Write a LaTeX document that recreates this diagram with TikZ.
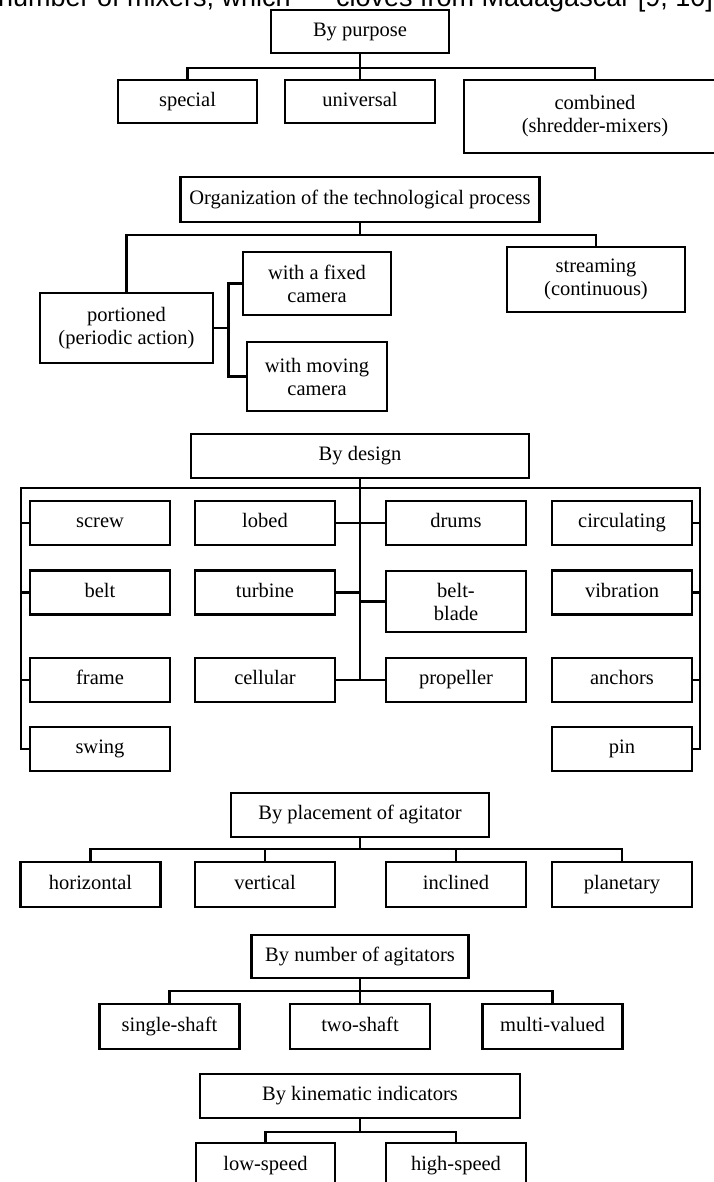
\documentclass[tikz,border=0pt]{standalone}
\usepackage{fontspec}
\setmainfont{Liberation Serif}
\newfontfamily\pagefont{Liberation Sans}

\begin{document}
\begin{tikzpicture}[
                line join=miter,
                box/.style={draw=black, line width=2.6pt, align=center, inner sep=0pt, font=\fontsize{20.5pt}{23pt}\selectfont},
                link/.style={draw=black, line width=2.6pt},
                pagetext/.style={inner sep=0pt, font=\pagefont\fontsize{27pt}{30pt}\selectfont}
                ]
                \useasboundingbox (0pt,0pt) rectangle (713pt,-1182pt);

                %% Cut line of the page text
                \node[pagetext, anchor=base east] (textleft) at (291pt,-7pt) {number of mixers, which};
                \node[pagetext, anchor=base west] (textright) at (336pt,-7pt) {cloves from Madagascar [9, 10]};

                %% By purpose
                \node[box, minimum width=178pt, minimum height=43pt] (purpose) at (360pt,-31.5pt) {By purpose\strut};
                \node[box, minimum width=139pt, minimum height=43pt] (special) at (187.5pt,-101.5pt) {special\strut};
                \node[box, minimum width=150pt, minimum height=43pt] (universal) at (360pt,-101.5pt) {universal\strut};
                \node[box, minimum width=262pt, minimum height=73pt] (combined) at (595pt,-116.5pt) {combined\\(shredder-mixers)};
                \coordinate (b1) at (360pt,-68pt);
                \draw[link] (purpose.south) -- (universal.north);
                \draw[link] (special.north) |- (b1) -| (combined.north);

                %% Organization of the technological process
                \node[box, minimum width=359pt, minimum height=45pt] (process) at (360pt,-199.5pt) {Organization of the technological process\strut};
                \node[box, minimum width=173pt, minimum height=70pt] (portioned) at (126.5pt,-328pt) {portioned\\(periodic action)};
                \node[box, minimum width=178pt, minimum height=65pt] (streaming) at (596pt,-279.5pt) {streaming\\(continuous)};
                \node[box, minimum width=148pt, minimum height=63pt] (fixedcam) at (317pt,-283.5pt) {with a fixed\\camera};
                \node[box, minimum width=140pt, minimum height=69pt] (movingcam) at (317pt,-376.5pt) {with moving\\camera};
                \coordinate (b2) at (360pt,-235pt);
                \coordinate (b2s) at ([xshift=14pt]portioned.east);
                \draw[link] (process.south) -- (b2);
                \draw[link] (portioned.north) |- (b2) -| (streaming.north);
                \draw[link] (portioned.east) -- (b2s);
                \draw[link] (fixedcam.west) -| (b2s) |- (movingcam.west);

                %% By design
                \node[box, minimum width=338pt, minimum height=44pt] (design) at (360pt,-456pt) {By design\strut};
                \foreach \name/\txt/\x/\y in {screw/screw/100pt/-523pt, belt/belt/100pt/-592.5pt, frame/frame/100pt/-680pt, swing/swing/100pt/-749pt,
                                              lobed/lobed/265pt/-523pt, turbine/turbine/265pt/-592.5pt, cellular/cellular/265pt/-680pt,
                                              drums/drums/456pt/-523pt, propeller/propeller/456pt/-680pt,
                                              circulating/circulating/622pt/-523pt, vibration/vibration/622pt/-592.5pt, anchors/anchors/622pt/-680pt, pin/pin/622pt/-749pt} {
                    \node[box, minimum width=140pt, minimum height=44pt] (\name) at (\x,\y) {\txt\strut};
                }
                \node[box, minimum width=140pt, minimum height=61pt] (beltblade) at (456pt,-601.5pt) {belt-\\blade};
                \coordinate (dl) at (21pt,-488pt);
                \coordinate (dr) at (700pt,-488pt);
                \draw[link] (swing.west) -| (dl) -- (dr) |- (pin.east);
                \draw[link] (design.south) -- (design.south |- cellular.east);
                \foreach \n in {screw, belt, frame} {
                    \draw[link] (\n.west) -- (\n.west -| dl);
                }
                \foreach \n in {circulating, vibration, anchors} {
                    \draw[link] (\n.east) -- (\n.east -| dr);
                }
                \foreach \n in {lobed, turbine, cellular} {
                    \draw[link] (\n.east) -- (\n.east -| design.south);
                }
                \foreach \n in {drums, beltblade, propeller} {
                    \draw[link] (\n.west) -- (\n.west -| design.south);
                }

                %% By placement of agitator
                \node[box, minimum width=258pt, minimum height=44pt] (placement) at (360pt,-815pt) {By placement of agitator\strut};
                \foreach \name/\txt/\x in {horizontal/horizontal/90.5pt, vertical/vertical/265pt, inclined/inclined/456pt, planetary/planetary/622pt} {
                    \node[box, minimum width=140pt, minimum height=45pt] (\name) at (\x,-884.5pt) {\txt\strut};
                }
                \coordinate (b4) at (360pt,-849pt);
                \draw[link] (placement.south) -- (b4);
                \draw[link] (horizontal.north) |- (b4) -| (planetary.north);
                \draw[link] (vertical.north) -- (vertical.north |- b4);
                \draw[link] (inclined.north) -- (inclined.north |- b4);

                %% By number of agitators
                \node[box, minimum width=217pt, minimum height=43pt] (number) at (360pt,-956.5pt) {By number of agitators\strut};
                \foreach \name/\txt/\x in {singleshaft/single-shaft/169.5pt, twoshaft/two-shaft/360pt, multivalued/multi-valued/552.5pt} {
                    \node[box, minimum width=140pt, minimum height=45pt] (\name) at (\x,-1026.5pt) {\txt\strut};
                }
                \coordinate (b5) at (360pt,-991pt);
                \draw[link] (number.south) -- (twoshaft.north);
                \draw[link] (singleshaft.north) |- (b5) -| (multivalued.north);

                %% By kinematic indicators
                \node[box, minimum width=320pt, minimum height=44pt] (kinematic) at (360pt,-1096pt) {By kinematic indicators\strut};
                \node[box, minimum width=139pt, minimum height=45pt] (lowspeed) at (265.5pt,-1165.5pt) {low-speed\strut};
                \node[box, minimum width=140pt, minimum height=45pt] (highspeed) at (456pt,-1165.5pt) {high-speed\strut};
                \coordinate (b6) at (360pt,-1132pt);
                \draw[link] (kinematic.south) -- (b6);
                \draw[link] (lowspeed.north) |- (b6) -| (highspeed.north);
\end{tikzpicture}
\end{document}
